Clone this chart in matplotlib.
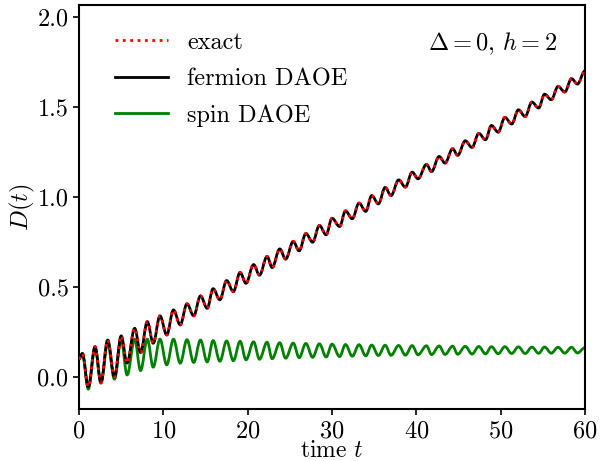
import matplotlib
matplotlib.use("Agg")
from matplotlib import pyplot as plt
from matplotlib.path import Path
from matplotlib.patches import PathPatch
from matplotlib.lines import Line2D

plt.rcParams['font.family'] = 'serif'
plt.rcParams['font.serif'] = ['cmr10']
plt.rcParams['mathtext.fontset'] = 'cm'
plt.rcParams['axes.formatter.use_mathtext'] = True

# turning points of D(t) (start, alternating max/min, end)
t_pts = [0.0, 0.4, 1.1, 1.9, 2.6, 3.4, 4.2, 5.0, 5.7, 6.6, 7.3, 8.1, 8.8, 9.6, 10.4,
         11.2, 12.0, 12.8, 13.6, 14.4, 15.2, 15.9, 16.7, 17.5, 18.3, 19.1, 19.8,
         20.7, 21.4, 22.3, 22.9, 23.8, 24.5, 25.4, 26.1, 26.9, 27.7, 28.5, 29.3,
         30.0, 30.9, 31.6, 32.4, 33.2, 34.0, 34.7, 35.5, 36.3, 37.0, 37.9, 38.7,
         39.5, 40.2, 41.2, 41.8, 42.7, 43.4, 44.3, 44.9, 45.8, 46.6, 47.4, 48.2,
         48.9, 49.7, 50.5, 51.3, 52.1, 52.9, 53.7, 54.5, 55.2, 56.0, 56.8, 57.6,
         58.4, 59.1, 60.0]

# fermion DAOE (the exact result lies on top of it)
d_fermion = [0.10, 0.13, -0.055, 0.168, -0.03, 0.205, 0.0, 0.228, 0.077, 0.27, 0.135,
             0.307, 0.187, 0.339, 0.233, 0.372, 0.289, 0.406, 0.339, 0.45, 0.381,
             0.49, 0.428, 0.535, 0.474, 0.58, 0.52, 0.624, 0.565, 0.669, 0.607,
             0.711, 0.654, 0.752, 0.70, 0.796, 0.748, 0.841, 0.789, 0.881, 0.835,
             0.922, 0.878, 0.965, 0.919, 1.007, 0.961, 1.052, 1.007, 1.094, 1.054,
             1.137, 1.10, 1.18, 1.14, 1.224, 1.187, 1.267, 1.23, 1.311, 1.274,
             1.352, 1.317, 1.396, 1.359, 1.441, 1.404, 1.483, 1.446, 1.526, 1.493,
             1.57, 1.539, 1.613, 1.582, 1.656, 1.626, 1.70]
d_exact = d_fermion

# spin DAOE
d_spin = [0.10, 0.13, -0.068, 0.165, -0.035, 0.19, -0.013, 0.206, 0.011, 0.209, 0.035,
          0.21, 0.054, 0.21, 0.067, 0.21, 0.076, 0.207, 0.08, 0.205, 0.083,
          0.202, 0.087, 0.20, 0.09, 0.198, 0.095, 0.195, 0.098, 0.193, 0.101,
          0.19, 0.104, 0.188, 0.107, 0.186, 0.109, 0.184, 0.111, 0.182, 0.113,
          0.18, 0.115, 0.179, 0.117, 0.177, 0.119, 0.176, 0.12, 0.175, 0.121,
          0.174, 0.123, 0.173, 0.124, 0.172, 0.125, 0.171, 0.126, 0.17, 0.127,
          0.169, 0.128, 0.168, 0.129, 0.168, 0.13, 0.167, 0.13, 0.166, 0.131,
          0.166, 0.132, 0.165, 0.132, 0.165, 0.133, 0.163]


def wave_path(t, d, k=0.36):
    # smooth curve through the turning points, flat tangent at each one
    verts = [(t[0], d[0])]
    codes = [Path.MOVETO]
    for i in range(len(t) - 1):
        dt = t[i + 1] - t[i]
        verts += [(t[i] + k * dt, d[i]), (t[i + 1] - k * dt, d[i + 1]), (t[i + 1], d[i + 1])]
        codes += [Path.CURVE4] * 3
    return Path(verts, codes)


fig = plt.figure(figsize=(6.05, 4.61), dpi=100)
ax = fig.add_axes([0.1306, 0.1128, 0.8364, 0.8764])

ax.add_patch(PathPatch(wave_path(t_pts, d_spin), fill=False, edgecolor='green', lw=2,
                       joinstyle='round', zorder=2))
ax.add_patch(PathPatch(wave_path(t_pts, d_fermion), fill=False, edgecolor='black', lw=2,
                       joinstyle='round', zorder=3))
ax.add_patch(PathPatch(wave_path(t_pts, d_exact), fill=False, edgecolor='red', lw=2,
                       linestyle=':', zorder=4))

ax.set_xlim(0, 60)
ax.set_ylim(-0.178, 2.065)
ax.set_xticks([0, 10, 20, 30, 40, 50, 60])
ax.set_yticks([0.0, 0.5, 1.0, 1.5, 2.0])
ax.set_yticklabels(['0.0', '0.5', '1.0', '1.5', '2.0'])
ax.tick_params(labelsize=17.5, width=1.2, length=4)
ax.tick_params(axis='x', pad=4)
for s in ax.spines.values():
    s.set_linewidth(1.5)

ax.set_xlabel(r'time $t$', fontsize=17, labelpad=-1.5)
ax.set_ylabel(r'$D(t)$', fontsize=17.5, labelpad=0)

ax.text(0.945, 0.903, r'$\Delta=0$, $h=2$', transform=ax.transAxes, fontsize=17.5,
        ha='right', va='center')

handles = [Line2D([], [], color='red', ls=':', lw=2),
           Line2D([], [], color='black', ls='-', lw=2),
           Line2D([], [], color='green', ls='-', lw=2)]
ax.legend(handles, ['exact', 'fermion DAOE', 'spin DAOE'], loc='upper left',
          frameon=False, fontsize=17.5, handlelength=2.2, handletextpad=0.8,
          borderaxespad=0.5, labelspacing=0.58, bbox_to_anchor=(0.027, 0.988))

fig.savefig('out.png', dpi=100)
